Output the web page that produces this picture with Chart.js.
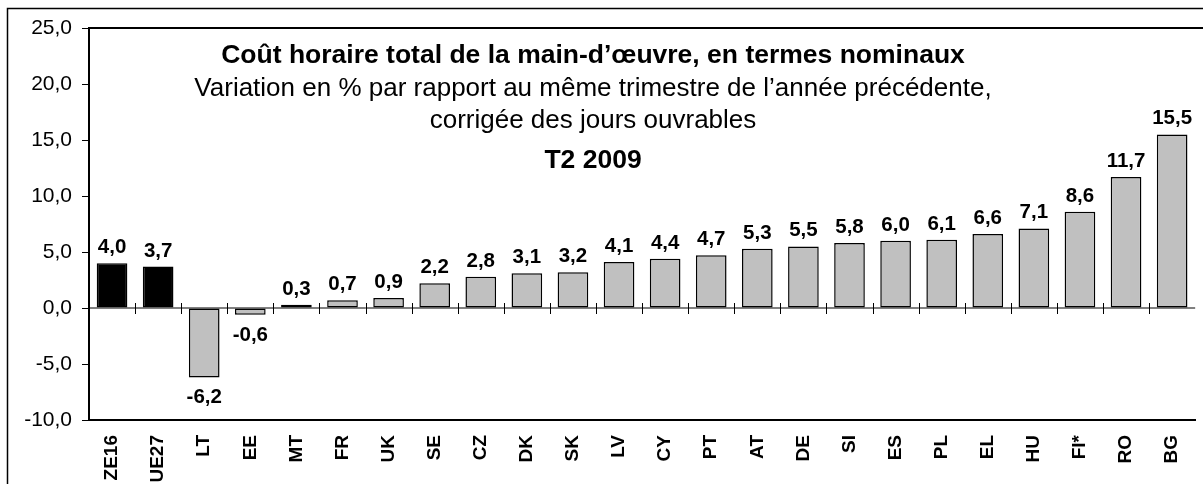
<!DOCTYPE html>
<html>
<head>
<meta charset="utf-8">
<script src="https://cdn.jsdelivr.net/npm/chart.js@4"></script>
<style>
    html, body { margin: 0; padding: 0; overflow: hidden; background: #fff; }
    #wrap { position: absolute; left: 0; top: 0; }
</style>
</head>
<body>
<div id="wrap"><canvas id="myChart" width="1210" height="500"></canvas></div>
<script>
const countries = ['ZE16', 'UE27', 'LT', 'EE', 'MT', 'FR', 'UK', 'SE', 'CZ', 'DK', 'SK', 'LV',
    'CY', 'PT', 'AT', 'DE', 'SI', 'ES', 'PL', 'EL', 'HU', 'FI*', 'RO', 'BG'];
const growth = [4.0, 3.7, -6.2, -0.6, 0.3, 0.7, 0.9, 2.2, 2.8, 3.1, 3.2, 4.1,
    4.4, 4.7, 5.3, 5.5, 5.8, 6.0, 6.1, 6.6, 7.1, 8.6, 11.7, 15.5];
const aggregates = ['ZE16', 'UE27'];
const yTicks = [-10, -5, 0, 5, 10, 15, 20, 25];
const titleLines = [
    'Coût horaire total de la main-d’œuvre, en termes nominaux',
    'Variation en % par rapport au même trimestre de l’année précédente,',
    'corrigée des jours ouvrables',
    'T2 2009'
];

const FONT = "'Liberation Sans', Arial, sans-serif";

function fmt(v) {
    return v.toFixed(1).replace('.', ',');
}

const colors = countries.map(c => aggregates.includes(c) ? '#000000' : '#C0C0C0');

const framePlugin = {
    id: 'frame',
    beforeDraw(chart) {
        const ctx = chart.ctx;
        ctx.save();
        ctx.fillStyle = '#fff';
        ctx.fillRect(0, 0, chart.width, chart.height);
        ctx.strokeStyle = '#000';
        ctx.lineWidth = 1.5;
        ctx.strokeRect(7.5, 8.5, 3000, 3000);
        ctx.restore();
    },
    beforeDatasetsDraw(chart) {
        // zero line with tick marks between categories
        const ctx = chart.ctx;
        const x = chart.scales.x;
        const y0 = chart.scales.y.getPixelForValue(0);
        const area = chart.chartArea;
        ctx.save();
        ctx.strokeStyle = '#000';
        ctx.lineWidth = 1.5;
        ctx.beginPath();
        ctx.moveTo(area.left, y0);
        ctx.lineTo(area.right, y0);
        const half = (x.getPixelForValue(1) - x.getPixelForValue(0)) / 2;
        ctx.lineWidth = 1;
        for (let i = 1; i < countries.length; i++) {
            const px = Math.round(x.getPixelForValue(i) - half) + 0.5;
            ctx.moveTo(px, y0 - 5);
            ctx.lineTo(px, y0 + 6);
        }
        ctx.stroke();
        ctx.restore();
    },
    afterDatasetsDraw(chart) {
        const ctx = chart.ctx;
        const area = chart.chartArea;
        const meta = chart.getDatasetMeta(0);
        ctx.save();
        ctx.fillStyle = '#000';
        ctx.font = 'bold 20.5px ' + FONT;
        ctx.textAlign = 'center';
        ctx.textBaseline = 'alphabetic';
        meta.data.forEach((bar, i) => {
            const v = growth[i];
            const ty = v >= 0 ? bar.y - 10 : bar.y + 26;
            ctx.fillText(fmt(v), bar.x, ty);
        });

        // top border of the plot
        ctx.strokeStyle = '#000';
        ctx.lineWidth = 2;
        ctx.beginPath();
        ctx.moveTo(area.left, area.top);
        ctx.lineTo(chart.width, area.top);
        ctx.stroke();

        // title block
        const cx = area.left + 504;
        const baselines = [63, 96, 128, 168];
        titleLines.forEach((t, i) => {
            const bold = i === 0 || i === 3;
            ctx.font = (bold ? 'bold 26.5px ' : '26px ') + FONT;
            ctx.fillText(t, cx, baselines[i]);
        });
        ctx.restore();
    }
};

const ctx = document.getElementById('myChart').getContext('2d');

const myChart = new Chart(ctx, {
    type: 'bar',
    data: {
        labels: countries,
        datasets: [{
            data: growth,
            backgroundColor: colors,
            borderColor: '#000',
            borderWidth: 1.5,
            borderSkipped: false,
            barPercentage: 0.665,
            categoryPercentage: 1
        }]
    },
    options: {
        responsive: false,
        animation: false,
        devicePixelRatio: 1,
        layout: { padding: { top: 28, right: 3, left: 0, bottom: 0 } },
        plugins: {
            legend: { display: false },
            tooltip: { enabled: false }
        },
        scales: {
            x: {
                grid: { display: false, drawTicks: false },
                border: { display: true, color: '#000', width: 2 },
                ticks: {
                    color: '#000',
                    font: { family: FONT, size: 19, weight: 'bold' },
                    minRotation: 90,
                    maxRotation: 90,
                    padding: 15,
                    autoSkip: false
                },
                afterFit(scale) { scale.height = 80; }
            },
            y: {
                min: -10,
                max: 25,
                afterBuildTicks(scale) {
                    scale.ticks = yTicks.map(v => ({ value: v }));
                },
                grid: {
                    drawOnChartArea: false,
                    drawTicks: true,
                    tickLength: 7,
                    color: '#000',
                    lineWidth: 1
                },
                border: { display: true, color: '#000', width: 2 },
                ticks: {
                    color: '#000',
                    font: { family: FONT, size: 21 },
                    padding: 10,
                    callback: v => fmt(v)
                },
                afterFit(scale) { scale.width = 89; }
            }
        }
    },
    plugins: [framePlugin]
});
</script>
</body>
</html>
